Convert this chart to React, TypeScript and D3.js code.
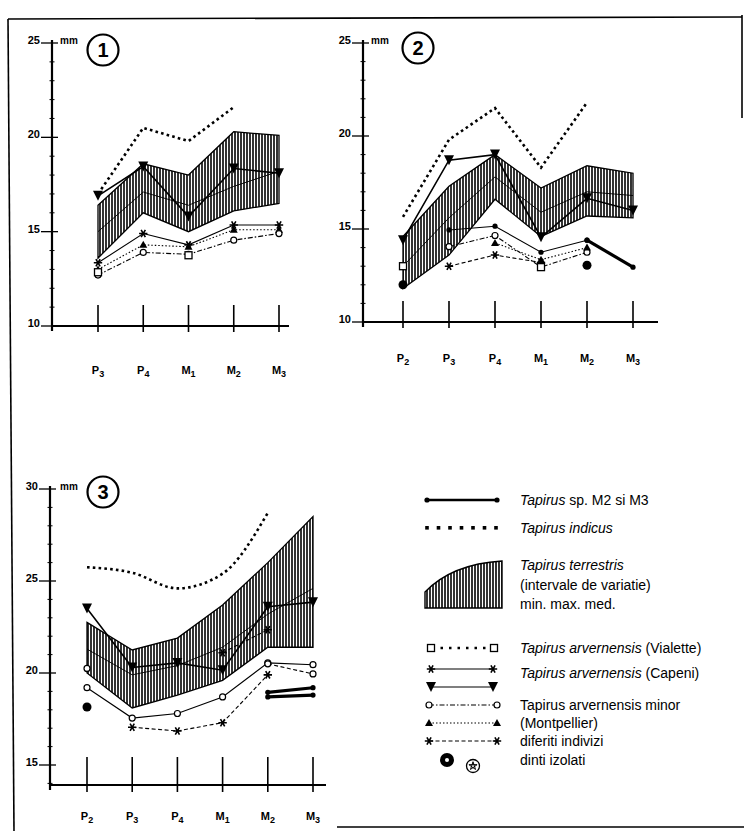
import React from "react";
import * as d3 from "d3";

// ---------- data ----------
const cats1 = ["P3", "P4", "M1", "M2", "M3"];
const cats23 = ["P2", "P3", "P4", "M1", "M2", "M3"];

// Panel 1 (P3..M3), mm
const indicus1 = [17.0, 20.5, 19.8, 21.6, null];
const capeni1 = [16.9, 18.45, 15.8, 18.35, 18.1];
const terrMax1 = [16.4, 18.6, 18.0, 20.3, 20.1];
const terrMin1 = [13.6, 16.0, 15.0, 16.1, 16.5];
const terrMed1 = [15.0, 17.1, 16.4, 17.4, 18.2];
const starLine1 = [13.35, 14.9, 14.3, 15.35, 15.35];
const triLine1 = [13.0, 14.3, 14.2, 15.1, 15.1];
const circLine1 = [12.7, 13.9, 13.8, 14.55, 14.9];
const vialette1 = [12.85, null, 13.75, null, null];

// Panel 2 (P2..M3)
const indicus2 = [15.65, 19.8, 21.5, 18.3, 21.8, null];
const capeni2 = [14.4, 18.7, 19.0, 14.55, 16.65, 16.0];
const terrMax2 = [14.6, 17.3, 19.0, 17.2, 18.4, 18.0];
const terrMin2 = [11.8, 13.6, 16.6, 14.6, 15.7, 15.6];
const terrMed2 = [13.0, 15.6, 17.8, 15.9, 17.0, 16.8];
const starLine2 = [null, 14.95, 15.15, 13.75, 14.4, null];
const sp2 = [null, null, null, null, 14.4, 12.95];
const circLine2 = [null, 14.05, 14.65, 12.95, 13.75, null];
const triLine2 = [null, null, 14.25, 13.35, 14.0, null];
const dashLine2 = [null, 13.0, 13.6, 13.2, null, null];
const isolated2 = [12.0, null, null, null, 13.05, null];
const vialette2 = [13.0, null, null, 12.95, null, null];

// Panel 3 (P2..M3)
const indicus3 = [25.75, 25.45, 24.6, 25.4, 28.7, null];
const capeni3 = [23.5, 20.3, 20.55, 20.15, 23.6, 23.85];
const terrMax3 = [22.75, 21.25, 21.9, 23.7, 26.0, 28.5];
const terrMin3 = [20.0, 18.1, 18.8, 19.6, 21.4, 21.4];
const terrMed3 = [21.3, 19.9, 20.4, 21.4, 23.2, 24.6];
const circLine3 = [19.2, 17.55, 17.8, 18.7, 20.55, 20.45];
const dashLine3 = [null, 17.05, 16.85, 17.3, 19.9, null];
const dashLine3b = [null, null, null, null, 20.5, 19.95];
const spA3 = [null, null, null, null, 18.7, 18.8];
const spB3 = [null, null, null, null, 18.95, 19.2];
const starLine3 = [null, null, null, 21.1, 22.35, null];
const isolated3 = [18.15, null, null, null, null, null];
const openP2_3 = [20.25, null, null, null, null, null];

const ticks1 = [25, 20, 15, 10];
const ticks3 = [30, 25, 20, 15];

const FONT = "'Liberation Sans', Arial, Helvetica, sans-serif";

type V = (number | null)[];

function marker(kind: string, x: number, y: number, key: string) {
  switch (kind) {
    case "tri":
      return <path key={key} d={`M${x - 5},${y - 5}L${x + 5},${y - 5}L${x},${y + 5}Z`} fill="#000" />;
    case "triUp":
      return <path key={key} d={`M${x - 4},${y + 3}L${x + 4},${y + 3}L${x},${y - 4}Z`} fill="#000" />;
    case "circle":
      return <circle key={key} cx={x} cy={y} r={3} fill="#fff" stroke="#000" strokeWidth={1.2} />;
    case "square":
      return <rect key={key} x={x - 3.5} y={y - 3.5} width={7} height={7} fill="#fff" stroke="#000" strokeWidth={1.3} />;
    case "dot":
      return <circle key={key} cx={x} cy={y} r={2.6} fill="#000" />;
    case "bigdot":
      return <circle key={key} cx={x} cy={y} r={4.5} fill="#000" />;
    case "star": {
      const r = 4.2;
      const d = [0, 60, 120]
        .map((a) => {
          const t = (a * Math.PI) / 180;
          return `M${x - r * Math.cos(t)},${y - r * Math.sin(t)}L${x + r * Math.cos(t)},${y + r * Math.sin(t)}`;
        })
        .join("");
      return <path key={key} d={d} stroke="#000" strokeWidth={1.6} />;
    }
    default:
      return null;
  }
}

const styles: Record<string, any> = {
  indicus: { strokeWidth: 2.6, strokeDasharray: "2.6 3.2" },
  capeni: { strokeWidth: 1.6 },
  thin: { strokeWidth: 1.1 },
  dotted: { strokeWidth: 1.1, strokeDasharray: "1.5 2" },
  dash: { strokeWidth: 1.1, strokeDasharray: "4 2.5" },
  dashdot: { strokeWidth: 1.1, strokeDasharray: "5 2 1.5 2" },
  thick: { strokeWidth: 3.2 },
  med: { strokeWidth: 0.9 },
};

type Series = { values: V; style?: string; marker?: string; smooth?: boolean };

type PanelCfg = {
  cats: string[];
  xRange: [number, number];
  yDomain: [number, number];
  yRange: [number, number];
  axisX: number;
  axisEndX: number;
  baseY: number;
  majors: number[];
  minorFrom: number;
  minorTo: number;
  circle: [number, number];
  num: string;
  mmX: number;
  labelY: number;
  catTop: number;
  catBot: number;
  band: { min: V; max: V; med: V };
  series: Series[];
};

function Panel({ cfg, id }: { cfg: PanelCfg; id: string }) {
  const x = d3.scalePoint<string>().domain(cfg.cats).range(cfg.xRange);
  const y = d3.scaleLinear().domain(cfg.yDomain).range(cfg.yRange);
  const idx = (i: number) => x(cfg.cats[i]) as number;

  const area = d3
    .area<number>()
    .x((_, i) => idx(i))
    .y0((_, i) => y(cfg.band.min[i] as number))
    .y1((_, i) => y(cfg.band.max[i] as number));
  const bandPath = area(cfg.cats.map((_, i) => i)) || "";

  const lineFor = (vals: V, smooth?: boolean) => {
    const pts = vals.map((v, i) => ({ v, i })).filter((p) => p.v != null);
    const gen = d3
      .line<{ v: number | null; i: number }>()
      .x((p) => idx(p.i))
      .y((p) => y(p.v as number));
    if (smooth) gen.curve(d3.curveMonotoneX);
    return gen(pts) || "";
  };

  const topVal = cfg.majors[0];
  const minors = d3.range(cfg.minorFrom, cfg.minorTo + 1).filter((v) => !cfg.majors.includes(v));

  return (
    <g>
      {/* hatched band */}
      <path d={bandPath} fill="url(#hatch)" stroke="#000" strokeWidth={1.3} />
      <path d={lineFor(cfg.band.med)} fill="none" stroke="#000" {...styles.med} />

      {cfg.series.map((s, si) => {
        const nonNull = s.values.filter((v) => v != null).length;
        return (
          <g key={si}>
            {nonNull > 1 && s.style && (
              <path d={lineFor(s.values, s.smooth)} fill="none" stroke="#000" {...styles[s.style]} />
            )}
            {s.marker &&
              s.values.map((v, i) =>
                v == null ? null : marker(s.marker as string, idx(i), y(v), `${id}-${si}-${i}`)
              )}
          </g>
        );
      })}

      {/* y axis */}
      <line x1={cfg.axisX} x2={cfg.axisX} y1={y(topVal) - 3} y2={cfg.baseY + 5} stroke="#000" strokeWidth={2.2} />
      {minors.map((v) => (
        <line key={v} x1={cfg.axisX - 2.5} x2={cfg.axisX + 2.5} y1={y(v)} y2={y(v)} stroke="#000" strokeWidth={1} />
      ))}
      {cfg.majors.map((v) => (
        <g key={v}>
          <line x1={cfg.axisX - 11} x2={cfg.axisX + 6} y1={y(v)} y2={y(v)} stroke="#000" strokeWidth={1.3} />
          <text
            x={cfg.axisX - 12}
            y={y(v) + 1}
            textAnchor="end"
            fontFamily={FONT}
            fontWeight="bold"
            fontSize={11}
          >
            {v}
          </text>
        </g>
      ))}
      <text x={cfg.mmX} y={y(topVal) + 1} fontFamily={FONT} fontWeight="bold" fontSize={10}>
        mm
      </text>
      <circle cx={cfg.circle[0]} cy={cfg.circle[1]} r={15.5} fill="#fff" stroke="#000" strokeWidth={2.2} />
      <text
        x={cfg.circle[0]}
        y={cfg.circle[1] + 7}
        textAnchor="middle"
        fontFamily={FONT}
        fontWeight="bold"
        fontSize={20}
      >
        {cfg.num}
      </text>

      {/* x axis */}
      <line x1={cfg.axisX} x2={cfg.axisEndX} y1={cfg.baseY} y2={cfg.baseY} stroke="#000" strokeWidth={2} />
      {cfg.cats.map((c, i) => (
        <g key={c}>
          <line x1={idx(i)} x2={idx(i)} y1={cfg.catTop} y2={cfg.catBot} stroke="#000" strokeWidth={1.6} />
          <text
            x={idx(i)}
            y={cfg.labelY}
            textAnchor="middle"
            fontFamily={FONT}
            fontWeight="bold"
            fontSize={11}
          >
            {c[0]}
            <tspan fontSize={9} dy={3}>
              {c.slice(1)}
            </tspan>
          </text>
        </g>
      ))}
    </g>
  );
}

const panel1: PanelCfg = {
  cats: cats1,
  xRange: [98, 279],
  yDomain: [10, 25],
  yRange: [326, 43],
  axisX: 52,
  axisEndX: 289,
  baseY: 326,
  majors: ticks1,
  minorFrom: 11,
  minorTo: 24,
  circle: [103, 50],
  num: "1",
  mmX: 60,
  labelY: 374,
  catTop: 305,
  catBot: 332,
  band: { min: terrMin1, max: terrMax1, med: terrMed1 },
  series: [
    { values: indicus1, style: "indicus" },
    { values: capeni1, style: "capeni", marker: "tri" },
    { values: starLine1, style: "thin", marker: "star" },
    { values: triLine1, style: "dotted", marker: "triUp" },
    { values: circLine1, style: "dashdot", marker: "circle" },
    { values: vialette1, marker: "square" },
  ],
};

const panel2: PanelCfg = {
  cats: cats23,
  xRange: [403, 633],
  yDomain: [10, 25],
  yRange: [322, 43],
  axisX: 363,
  axisEndX: 658,
  baseY: 322,
  majors: ticks1,
  minorFrom: 11,
  minorTo: 24,
  circle: [418, 48],
  num: "2",
  mmX: 371,
  labelY: 362,
  catTop: 301,
  catBot: 328,
  band: { min: terrMin2, max: terrMax2, med: terrMed2 },
  series: [
    { values: indicus2, style: "indicus" },
    { values: capeni2, style: "capeni", marker: "tri" },
    { values: starLine2, style: "thin", marker: "dot" },
    { values: sp2, style: "thick", marker: "dot" },
    { values: circLine2, style: "dashdot", marker: "circle" },
    { values: triLine2, style: "dotted", marker: "triUp" },
    { values: dashLine2, style: "dash", marker: "star" },
    { values: isolated2, marker: "bigdot" },
    { values: vialette2, marker: "square" },
  ],
};

const panel3: PanelCfg = {
  cats: cats23,
  xRange: [87, 313],
  yDomain: [15, 30],
  yRange: [765, 489],
  axisX: 50,
  axisEndX: 326,
  baseY: 785,
  majors: ticks3,
  minorFrom: 14,
  minorTo: 29,
  circle: [103, 492],
  num: "3",
  mmX: 60,
  labelY: 820,
  catTop: 757,
  catBot: 792,
  band: { min: terrMin3, max: terrMax3, med: terrMed3 },
  series: [
    { values: indicus3, style: "indicus", smooth: true },
    { values: capeni3, style: "capeni", marker: "tri" },
    { values: circLine3, style: "thin", marker: "circle" },
    { values: dashLine3, style: "dash", marker: "star" },
    { values: dashLine3b, style: "dash", marker: "circle" },
    { values: spA3, style: "thick", marker: "dot" },
    { values: spB3, style: "thick", marker: "dot" },
    { values: starLine3, style: "dash", marker: "star" },
    { values: isolated3, marker: "bigdot" },
    { values: openP2_3, marker: "circle" },
  ],
};

// ---------- legend ----------
const legendX = 520;

function Legend() {
  const t = (y: number, children: React.ReactNode, key: string) => (
    <text key={key} x={legendX} y={y + 5} fontFamily={FONT} fontSize={14}>
      {children}
    </text>
  );
  const dots = d3.range(427, 500, 11.5);
  return (
    <g>
      {/* Tapirus sp. */}
      <line x1={427} x2={497} y1={500} y2={500} stroke="#000" strokeWidth={2.6} />
      {marker("dot", 427, 500, "lg1a")}
      {marker("dot", 497, 500, "lg1b")}
      {t(500, <><tspan fontStyle="italic">Tapirus</tspan>{" sp. M2 si M3"}</>, "t1")}

      {/* indicus */}
      {dots.map((dx, i) => (
        <rect key={i} x={dx - 1.8} y={526} width={3.6} height={3.6} fill="#000" />
      ))}
      {t(528, <tspan fontStyle="italic">Tapirus indicus</tspan>, "t2")}

      {/* terrestris */}
      <path d="M425,608L425,592Q452,564 502,561L502,608Z" fill="url(#hatch)" stroke="#000" strokeWidth={1.4} />
      {t(565, <tspan fontStyle="italic">Tapirus terrestris</tspan>, "t3")}
      {t(585, "(intervale de variatie)", "t4")}
      {t(604, "min. max. med.", "t5")}

      {/* Vialette */}
      <line x1={432} x2={492} y1={648} y2={648} stroke="#000" strokeWidth={2.4} strokeDasharray="2.5 6" />
      {marker("square", 431, 648, "lg4a")}
      {marker("square", 494, 648, "lg4b")}
      {t(648, <><tspan fontStyle="italic">Tapirus arvernensis</tspan>{" (Vialette)"}</>, "t6")}

      {/* Capeni */}
      <line x1={431} x2={493} y1={669} y2={669} stroke="#000" strokeWidth={1.1} />
      {marker("star", 431, 669, "lg5a")}
      {marker("star", 493, 669, "lg5b")}
      <line x1={431} x2={493} y1={687} y2={687} stroke="#000" strokeWidth={1.1} />
      {marker("tri", 431, 687, "lg5c")}
      {marker("tri", 493, 687, "lg5d")}
      {t(673, <><tspan fontStyle="italic">Tapirus arvernensis</tspan>{" (Capeni)"}</>, "t7")}

      {/* Montpellier */}
      <line x1={429} x2={497} y1={705} y2={705} stroke="#000" {...styles.dashdot} />
      {marker("circle", 429, 705, "lg6a")}
      {marker("circle", 497, 705, "lg6b")}
      <line x1={429} x2={497} y1={723} y2={723} stroke="#000" {...styles.dotted} />
      {marker("triUp", 429, 723, "lg6c")}
      {marker("triUp", 497, 723, "lg6d")}
      <line x1={429} x2={497} y1={741} y2={741} stroke="#000" {...styles.dash} />
      {marker("star", 429, 741, "lg6e")}
      {marker("star", 497, 741, "lg6f")}
      <circle cx={447} cy={760} r={7} fill="#000" />
      <circle cx={447} cy={760} r={2} fill="#fff" />
      <circle cx={473} cy={766} r={6.5} fill="#fff" stroke="#000" strokeWidth={1.3} />
      <path
        d={d3.range(5).map((k) => {
          const a = -Math.PI / 2 + (k * 4 * Math.PI) / 5;
          return `${k === 0 ? "M" : "L"}${473 + 4.3 * Math.cos(a)},${766 + 4.3 * Math.sin(a)}`;
        }).join("") + "Z"}
        fill="none"
        stroke="#000"
        strokeWidth={1}
      />
      {t(705, "Tapirus arvernensis minor", "t8")}
      {t(723, "(Montpellier)", "t9")}
      {t(741, "diferiti indivizi", "t10")}
      {t(760, "dinti izolati", "t11")}
    </g>
  );
}

export default function App() {
  return (
    <svg
      width={744}
      height={831}
      viewBox="0 0 744 831"
      style={{ position: "absolute", left: 0, top: 0, background: "#fff" }}
    >
      <defs>
        <pattern id="hatch" width={3} height={10} patternUnits="userSpaceOnUse">
          <rect width={3} height={10} fill="#fff" />
          <line x1={1} x2={1} y1={0} y2={10} stroke="#000" strokeWidth={1.6} />
        </pattern>
      </defs>
      <rect width={744} height={831} fill="#fff" />
      {/* frame */}
      <path d="M8,19L742,17" stroke="#000" strokeWidth={1.6} fill="none" />
      <path d="M8,19L14,831" stroke="#000" strokeWidth={1.6} fill="none" />
      <path d="M742,15L742,118" stroke="#000" strokeWidth={1.6} fill="none" />
      <path d="M337,827L744,827" stroke="#000" strokeWidth={1.4} fill="none" />

      <Panel cfg={panel1} id="p1" />
      <Panel cfg={panel2} id="p2" />
      <Panel cfg={panel3} id="p3" />
      <Legend />
    </svg>
  );
}
